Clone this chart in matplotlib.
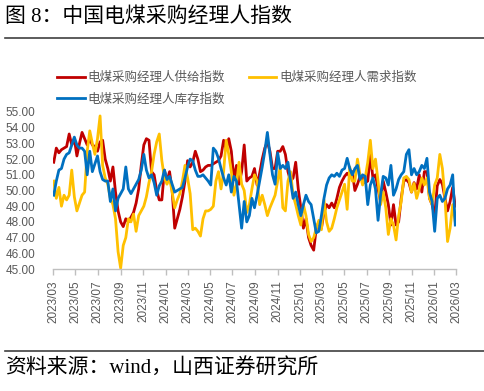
import matplotlib
matplotlib.use("Agg")
import matplotlib.pyplot as plt
import matplotlib.dates as mdates
from matplotlib.lines import Line2D
import pandas as pd

plt.rcParams['font.family'] = ['Liberation Sans', 'Noto Sans CJK SC']

# weekly readings, 2023-03 .. 2026-02
dates = pd.date_range('2023-03-03', periods=157, freq='7D')

supply = [
    51.8, 52.7, 52.4, 52.6, 52.7, 52.8, 53.6, 52.9, 53.3, 52.2,
    53.0, 53.7, 53.3, 52.9, 53.3, 52.9, 52.8, 52.5, 53.1, 53.2,
    52.0, 51.4, 50.6, 51.5, 49.9, 48.7, 48.0, 47.7, 48.2, 48.0,
    48.3, 48.6, 49.2, 50.1, 51.6, 52.9, 53.3, 53.2, 51.2, 51.0,
    50.0, 49.4, 49.4, 51.3, 50.6, 51.2, 50.0, 47.6, 48.2, 48.8,
    49.6, 50.6, 51.9, 51.5, 51.8, 52.5, 52.0, 51.2, 51.3, 51.5,
    51.6, 51.6, 51.7, 51.8, 51.9, 52.2, 53.2, 52.6, 53.3, 52.5,
    50.7, 51.6, 50.4, 51.2, 52.9, 50.6, 50.8, 50.9, 51.4, 50.35,
    51.1, 52.0, 52.7, 53.1, 52.5, 51.4, 51.4, 52.5, 52.5, 52.8,
    52.3, 51.2, 50.6, 50.8, 51.8, 50.1, 48.9, 47.6, 48.2, 47.0,
    46.5, 46.2, 47.6, 48.0, 47.6, 48.6, 49.1, 48.9, 49.2, 48.9,
    49.5, 50.2, 50.6, 50.9, 51.1, 50.9, 51.2, 50.0, 50.4, 50.9,
    50.8, 50.5, 50.6, 52.3, 50.8, 51.0, 50.1, 49.3, 50.6, 49.9,
    49.1, 47.8, 49.1, 47.8, 48.0, 49.5, 50.6, 50.7, 50.5, 49.9,
    50.5, 50.1, 51.0, 49.9, 51.2, 51.2, 49.5, 49.1, 48.4, 50.3,
    50.7, 50.4, 49.5, 48.7, 49.3, 50.2, 49.0,
]

demand = [
    50.6, 49.5, 50.2, 49.0, 49.7, 49.4, 49.7, 51.3, 49.6, 48.7,
    49.2, 49.7, 49.9, 52.5, 53.8, 53.0, 52.3, 53.3, 54.75, 51.6,
    50.8, 50.4, 49.5, 49.1, 48.2, 46.1, 45.05, 46.5, 47.0, 48.2,
    48.0, 48.5, 47.4, 48.4, 48.7, 49.0, 49.6, 50.5, 51.2, 52.3,
    53.1, 53.6, 51.9, 50.8, 50.4, 50.8, 49.9, 48.9, 49.4, 49.8,
    50.6, 51.6, 50.8, 49.8, 47.5, 47.6, 47.4, 47.1, 48.2, 48.7,
    48.7, 48.8, 49.0, 50.6, 51.2, 50.1, 51.2, 53.2, 52.3, 51.2,
    49.7, 50.4, 51.8, 50.4, 50.0, 48.6, 49.1, 50.1, 51.0, 50.6,
    49.1, 49.7, 49.1, 48.4, 48.9, 49.3, 49.7, 50.6, 51.5, 48.9,
    48.7, 50.6, 51.2, 49.7, 49.1, 48.4, 47.8, 49.1, 48.4, 47.2,
    46.75, 47.0, 47.6, 48.1, 47.5, 49.4, 48.0, 47.4, 47.6, 48.2,
    48.9, 49.4, 49.9, 50.4, 48.8, 51.5, 50.6, 50.6, 52.0, 51.0,
    50.35, 50.8, 51.8, 53.2, 51.4, 52.0, 50.6, 49.1, 49.9, 48.9,
    47.2, 48.2, 47.8, 46.85, 48.4, 49.3, 50.8, 50.9, 50.7, 49.9,
    50.45, 49.5, 50.1, 50.8, 50.35, 50.8, 49.5, 49.1, 50.35, 50.8,
    52.3, 51.4, 49.5, 46.75, 47.6, 49.1, 48.0,
]

stock = [
    49.7, 50.6, 51.3, 51.4, 52.0, 52.3, 52.4, 52.9, 53.4, 52.9,
    52.7, 52.7, 52.5, 51.0, 52.5, 51.2, 51.7, 52.2, 51.2, 50.7,
    50.6, 50.6, 49.3, 50.1, 48.7, 49.5, 49.8, 50.1, 51.5, 50.1,
    49.8, 50.1, 50.4, 50.7, 51.3, 52.3, 51.3, 50.8, 51.0, 50.5,
    49.7, 50.3, 50.6, 51.3, 50.7, 50.9, 50.4, 49.9, 50.0, 50.1,
    50.2, 50.8, 51.5, 52.0, 51.9, 51.3, 50.9, 50.9, 51.0, 50.8,
    50.6, 50.35, 52.7, 52.5, 52.05, 51.4, 50.8, 50.35, 51.0, 49.9,
    50.9, 50.6, 49.1, 47.6, 49.3, 48.0, 48.4, 49.5, 48.9, 49.7,
    50.6, 51.5, 52.5, 53.7, 52.3, 51.0, 50.4, 52.4, 51.4, 51.6,
    51.4, 51.8, 50.6, 49.5, 49.9, 49.1, 48.4, 49.1, 49.7, 49.3,
    49.1, 48.2, 47.3, 47.4, 48.4, 49.5, 50.35, 50.8, 51.0, 50.9,
    51.1, 50.9, 51.3, 51.4, 52.05, 51.4, 51.0, 51.4, 51.6, 50.7,
    51.0, 50.9, 49.1, 50.35, 50.8, 50.1, 48.1, 49.7, 50.9, 50.8,
    50.35, 51.6, 49.7, 50.1, 50.7, 51.0, 51.2, 52.3, 52.6, 51.0,
    51.4, 51.0, 51.2, 51.6, 51.4, 52.05, 49.9, 49.3, 47.4, 49.5,
    49.7, 49.3, 49.5, 50.1, 50.35, 51.0, 47.8,
]

names = ['电煤采购经理人供给指数', '电煤采购经理人需求指数', '电煤采购经理人库存指数']
colors = ['#C00000', '#FFC000', '#0070C0']
tick_dates = pd.date_range('2023-03-01', '2026-03-01', freq='2MS')

fig = plt.figure(figsize=(4.85, 3.91), dpi=100)
ax = fig.add_axes([53 / 485, 1 - 269 / 391, 403 / 485, 157 / 391])

lines = []
for vals, c, n in zip([supply, demand, stock], colors, names):
    ln, = ax.plot(dates, vals, color=c, lw=2.0, label=n, solid_joinstyle='round')
    lines.append(ln)

ax.set_xlim(pd.Timestamp('2023-03-01'), pd.Timestamp('2026-03-01'))
ax.set_ylim(45, 55)
ax.set_yticks(range(45, 56))
ax.yaxis.set_major_formatter(matplotlib.ticker.FormatStrFormatter('%.2f'))
ax.set_xticks(tick_dates)
ax.xaxis.set_major_formatter(mdates.DateFormatter('%Y/%m'))
for lab in ax.get_xticklabels():
    lab.set_rotation(90)

for s in ['top', 'right', 'left']:
    ax.spines[s].set_visible(False)
ax.spines['bottom'].set_color('#BFBFBF')
ax.spines['bottom'].set_linewidth(1.0)
ax.tick_params(axis='y', length=0, pad=13, labelsize=8.5, colors='#595959')
ax.tick_params(axis='x', length=4, width=1.0, color='#BFBFBF', pad=4,
               labelsize=8.5, labelcolor='#595959')

# legend: two rows (red, yellow / blue)
fig.legend([lines[0], lines[2], lines[1]], [names[0], names[2], names[1]],
           ncol=2, loc='upper left', bbox_to_anchor=(57 / 485, 1 - 72 / 391),
           frameon=False, fontsize=9, handlelength=2.2, handletextpad=0.25,
           columnspacing=1.9, labelspacing=0.75, borderaxespad=0, borderpad=0,
           labelcolor='#595959')

title_font = ['Liberation Serif', 'Noto Sans CJK SC']
fig.text(5 / 485, 1 - 17 / 391, '图 8：中国电煤采购经理人指数', family=title_font,
         fontsize=15, va='center', ha='left', color='black')
fig.add_artist(Line2D([5 / 485, 1], [1 - 37.5 / 391] * 2, color='#404040', lw=1.2))
fig.add_artist(Line2D([5 / 485, 1], [1 - 350.5 / 391] * 2, color='#404040', lw=1.2))
fig.text(5 / 485, 1 - 369 / 391, '资料来源：wind，山西证券研究所', family=title_font,
         fontsize=15, va='center', ha='left', color='black')

fig.savefig('out.png', dpi=100)
plt.close(fig)
